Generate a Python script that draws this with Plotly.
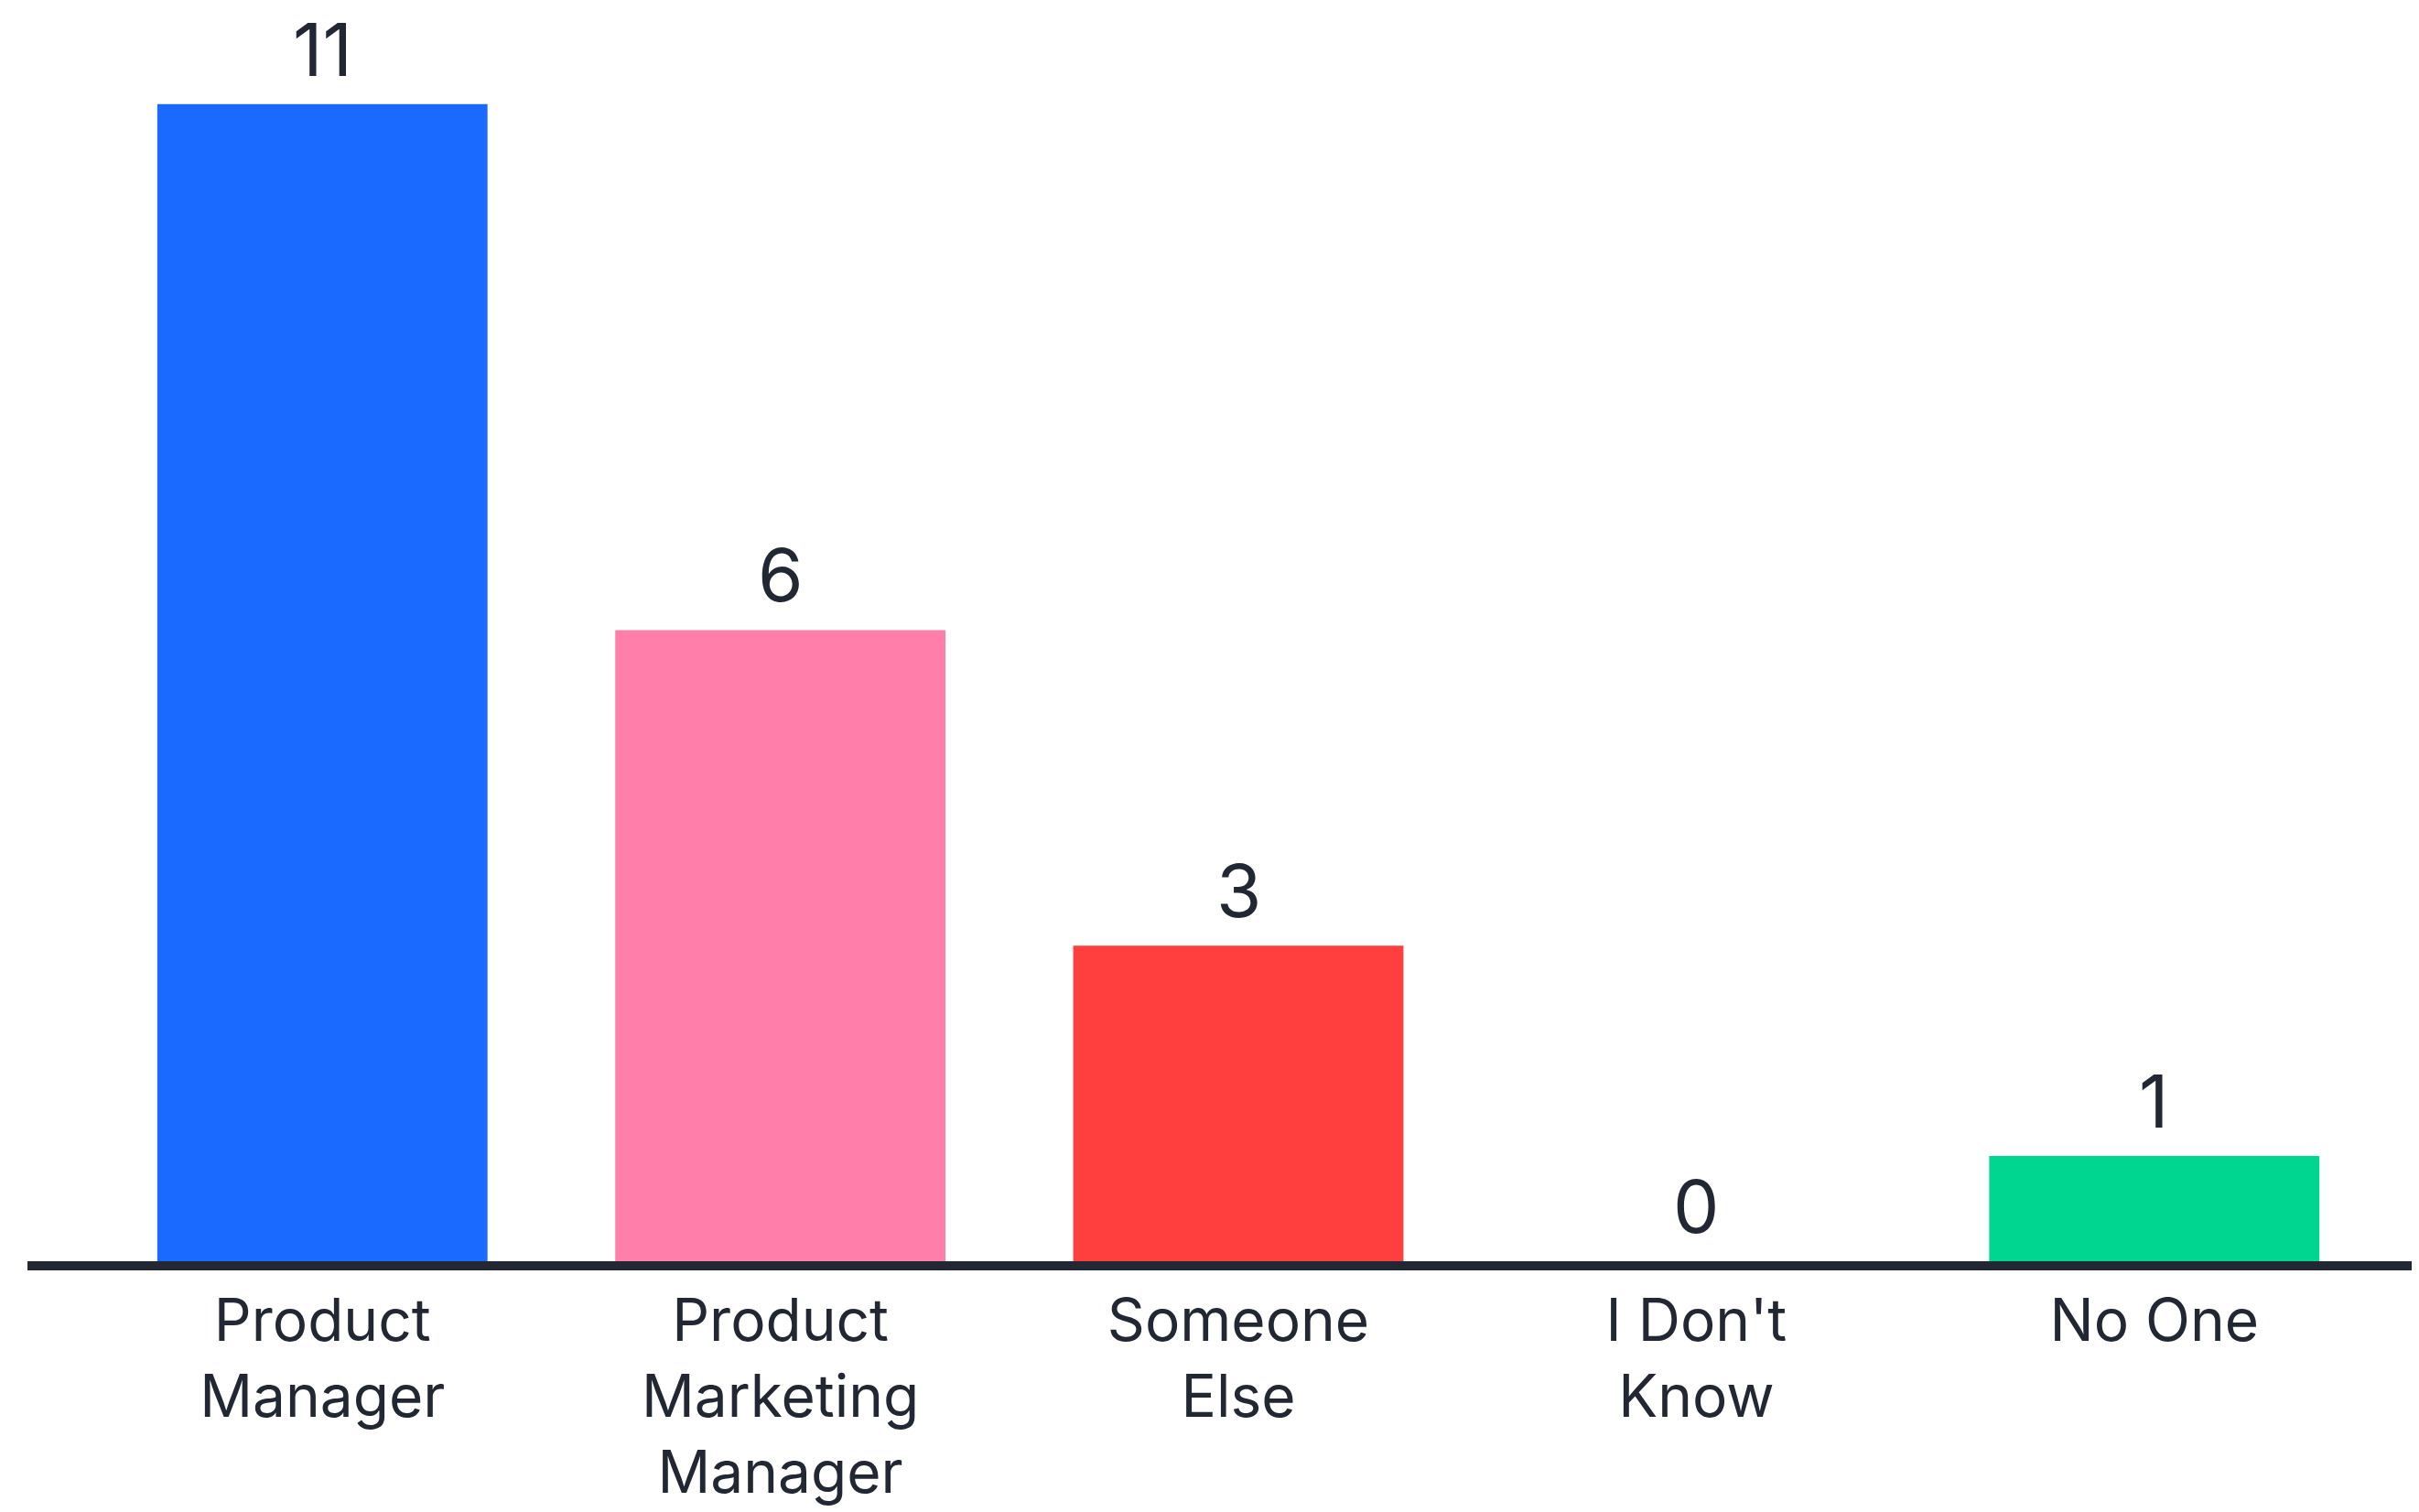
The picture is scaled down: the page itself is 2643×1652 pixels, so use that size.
import plotly.graph_objects as go

categories = ["Product<br>Manager", "Product<br>Marketing<br>Manager", "Someone<br>Else", "I Don't<br>Know", "No One"]
values = [11, 6, 3, 0, 1]
colors = ["#1A6AFF", "#FF7EAA", "#FF3E3E", "#FFFFFF", "#00D68F"]

TEXT = "#222833"
FONT = "Inter, Roboto, Arial, sans-serif"

fig = go.Figure()
fig.add_trace(go.Bar(
    x=list(range(len(categories))),
    y=values,
    marker=dict(color=colors, line=dict(width=0)),
    hoverinfo="skip",
))

for i, v in enumerate(values):
    fig.add_annotation(
        x=i, y=v, text=str(v), showarrow=False,
        xref="x", yref="y", yanchor="bottom", yshift=20,
        height=80, valign="middle", borderpad=0,
        font=dict(family=FONT, size=80, color=TEXT),
    )

fig.update_layout(
    width=2635, height=1644,
    margin=dict(l=22, r=0, t=0, b=274, autoexpand=False),
    paper_bgcolor="white", plot_bgcolor="white",
    bargap=0.279,
    showlegend=False,
    font=dict(family=FONT, color=TEXT),
)
fig.update_xaxes(
    tickmode="array",
    tickvals=list(range(len(categories))),
    ticktext=categories,
    range=[-0.644, 4.578],
    showline=True, linecolor=TEXT, linewidth=10,
    showgrid=False, zeroline=False, ticks="",
    tickfont=dict(family=FONT, size=64, color=TEXT),
    automargin=False,
    fixedrange=True,
)
fig.update_yaxes(
    range=[0, 11.92],
    showgrid=False, zeroline=False, showticklabels=False, showline=False,
    automargin=False,
    fixedrange=True,
)

fig.write_html("out.html", config={"displayModeBar": False})
